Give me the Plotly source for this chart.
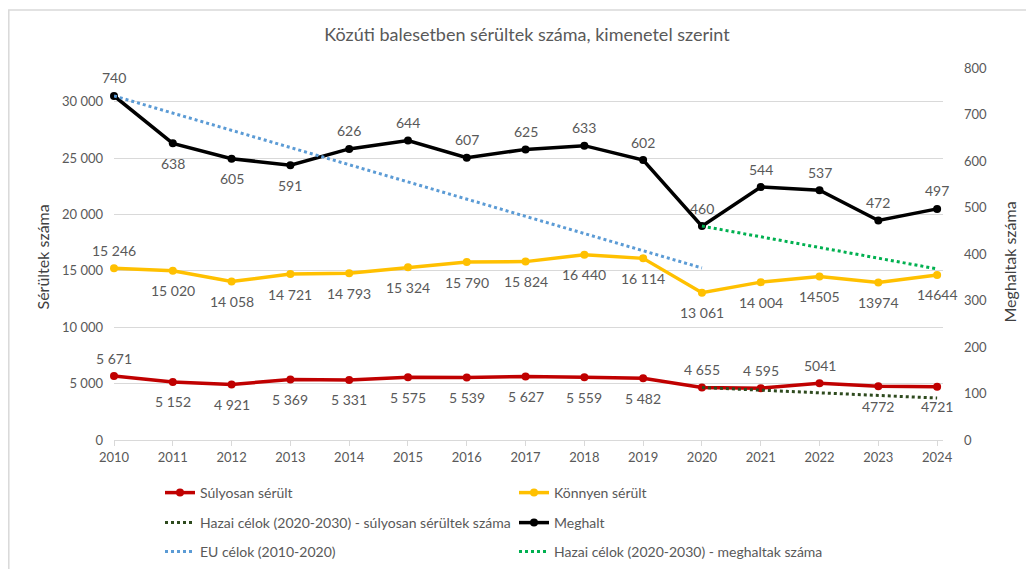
import plotly.graph_objects as go

# adatok
years = list(range(2010, 2025))
sulyos = [5671, 5152, 4921, 5369, 5331, 5575, 5539, 5627, 5559, 5482, 4655, 4595, 5041, 4772, 4721]
konnyu = [15246, 15020, 14058, 14721, 14793, 15324, 15790, 15824, 16440, 16114, 13061, 14004, 14505, 13974, 14644]
meghalt = [740, 638, 605, 591, 626, 644, 607, 625, 633, 602, 460, 544, 537, 472, 497]

eu_years = list(range(2010, 2021))
eu_cel = [740, 703, 666, 629, 592, 555, 518, 481, 444, 407, 370]
hazai_years = list(range(2020, 2025))
hazai_sulyos = [4655, 4420, 4190, 3960, 3720]
hazai_meghalt = [460, 437, 414, 391, 368]

# feliratok (az eredeti formázás szerint)
sulyos_lbl = ["5 671", "5 152", "4 921", "5 369", "5 331", "5 575", "5 539", "5 627", "5 559", "5 482",
              "4 655", "4 595", "5041", "4772", "4721"]
sulyos_pos = ["t", "b", "b", "b", "b", "b", "b", "b", "b", "b", "t", "t", "t", "b", "b"]
konnyu_lbl = ["15 246", "15 020", "14 058", "14 721", "14 793", "15 324", "15 790", "15 824", "16 440",
              "16 114", "13 061", "14 004", "14505", "13974", "14644"]
konnyu_pos = ["t"] + ["b"] * 14
meghalt_lbl = [str(v) for v in meghalt]
meghalt_pos = ["t", "b", "b", "b", "t", "t", "t", "t", "t", "t", "t", "t", "t", "t", "t"]

RED = "#C00000"
GOLD = "#FFC000"
BLUE = "#5B9BD5"
GREEN = "#00B050"
DKGREEN = "#2E4A1E"
GRAY = "#595959"
FONT = "Lato"

# a html body 8px margóval tolja el az ábrát
OFF = 8
W, H = 1034, 569
L, T = 114 - OFF, 68 - OFF
R, B = W - (943 - OFF), H - (440 - OFF)
pw, ph = W - L - R, H - T - B


def fx(x):
    return (x - OFF - L) / pw


def fy(y):
    return ((440 - OFF) - (y - OFF)) / ph


fig = go.Figure()

fig.add_trace(go.Scatter(x=years, y=sulyos, name="Súlyosan sérült", mode="lines+markers",
                         line=dict(color=RED, width=3.5), marker=dict(size=8, color=RED),
                         cliponaxis=False, legend="legend"))
fig.add_trace(go.Scatter(x=years, y=konnyu, name="Könnyen sérült", mode="lines+markers",
                         line=dict(color=GOLD, width=3.5), marker=dict(size=8, color=GOLD),
                         cliponaxis=False, legend="legend"))
fig.add_trace(go.Scatter(x=hazai_years, y=hazai_sulyos, name="Hazai célok (2020-2030) - súlyosan sérültek száma",
                         mode="lines", line=dict(color=DKGREEN, width=3, dash="dot"),
                         cliponaxis=False, legend="legend2"))
fig.add_trace(go.Scatter(x=years, y=meghalt, name="Meghalt", mode="lines+markers", yaxis="y2",
                         line=dict(color="#000000", width=3.5), marker=dict(size=8, color="#000000"),
                         cliponaxis=False, legend="legend2"))
fig.add_trace(go.Scatter(x=eu_years, y=eu_cel, name="EU célok (2010-2020)", mode="lines", yaxis="y2",
                         line=dict(color=BLUE, width=3, dash="dot"),
                         cliponaxis=False, legend="legend3"))
fig.add_trace(go.Scatter(x=hazai_years, y=hazai_meghalt, name="Hazai célok (2020-2030) - meghaltak száma",
                         mode="lines", yaxis="y2", line=dict(color=GREEN, width=3, dash="dot"),
                         cliponaxis=False, legend="legend3"))

annotations = []
for vals, lbls, pos, yref in [(sulyos, sulyos_lbl, sulyos_pos, "y"),
                              (konnyu, konnyu_lbl, konnyu_pos, "y"),
                              (meghalt, meghalt_lbl, meghalt_pos, "y2")]:
    for x, v, t, p in zip(years, vals, lbls, pos):
        annotations.append(dict(x=x, y=v, xref="x", yref=yref, text=t, showarrow=False,
                                yshift=18 if p == "t" else -20,
                                font=dict(family=FONT, size=14, color=GRAY)))

# tengelycímek
annotations.append(dict(xref="paper", yref="paper", x=fx(30), y=fy(257),
                        text="Sérültek száma", textangle=-90, showarrow=False,
                        font=dict(family=FONT, size=16, color="#404040")))
annotations.append(dict(xref="paper", yref="paper", x=fx(1020), y=fy(262),
                        text="Meghaltak száma", textangle=-90, showarrow=False,
                        font=dict(family=FONT, size=16, color="#404040")))

left_ticks = [0, 5000, 10000, 15000, 20000, 25000, 30000]
left_text = ["0", "5 000", "10 000", "15 000", "20 000", "25 000", "30 000"]

legend_common = dict(orientation="h", entrywidth=309, entrywidthmode="pixels",
                     xanchor="left", yanchor="middle", x=fx(160),
                     font=dict(family=FONT, size=14, color=GRAY), bgcolor="rgba(0,0,0,0)")

fig.update_layout(
    width=W, height=H,
    margin=dict(l=L, r=R, t=T, b=B, autoexpand=False),
    paper_bgcolor="white", plot_bgcolor="white",
    title=dict(text="Közúti balesetben sérültek száma, kimenetel szerint",
               x=(527 - OFF) / W, xref="container", xanchor="center",
               y=1 - (35 - OFF) / H, yref="container", yanchor="middle",
               font=dict(family=FONT, size=18, color=GRAY)),
    xaxis=dict(range=[2010, 2024.1], tickvals=years, showgrid=False, zeroline=False,
               showline=True, linecolor="#D9D9D9", linewidth=1, automargin=False,
               ticks="outside", ticklen=5, tickcolor="#D9D9D9",
               tickfont=dict(family=FONT, size=13, color=GRAY)),
    yaxis=dict(range=[0, 33000], tickvals=left_ticks, ticktext=left_text,
               showgrid=True, gridcolor="#D9D9D9", gridwidth=1, zeroline=False,
               showline=False, ticks="", ticklabelstandoff=10, automargin=False,
               tickfont=dict(family=FONT, size=13, color=GRAY)),
    yaxis2=dict(range=[0, 800], dtick=100, overlaying="y", side="right",
                showgrid=False, zeroline=False, showline=False, ticks="",
                ticklabelstandoff=20, automargin=False,
                tickfont=dict(family=FONT, size=13, color=GRAY)),
    legend=dict(y=fy(493), **legend_common),
    legend2=dict(y=fy(523), **legend_common),
    legend3=dict(y=fy(552), **legend_common),
    annotations=annotations,
    shapes=[dict(type="rect", xref="paper", yref="paper",
                 x0=fx(8.8), x1=fx(1060), y0=fy(600), y1=fy(10),
                 line=dict(color="#D9D9D9", width=1.5), layer="below")],
)

fig.write_html("out.html")
